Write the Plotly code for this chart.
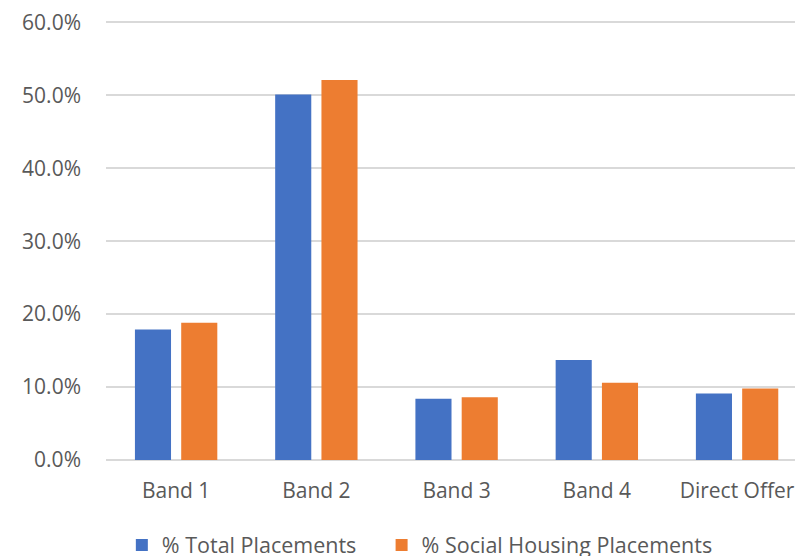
import plotly.graph_objects as go

categories = ["Band 1", "Band 2", "Band 3", "Band 4", "Direct Offer"]
total_placements = [17.9, 50.1, 8.4, 13.7, 9.1]
social_housing_placements = [18.8, 52.1, 8.6, 10.6, 9.8]
series_names = ["% Total Placements", "% Social Housing Placements"]
tick_vals = [0, 10, 20, 30, 40, 50, 60]
tick_text = [f"{v:.1f}%" for v in tick_vals]

font_family = "Open Sans, Noto Sans, sans-serif"
grey = "#595959"

fig = go.Figure()
fig.add_trace(go.Bar(x=categories, y=total_placements, name=series_names[0],
                     marker=dict(color="#4472C4", line=dict(width=0)), legend="legend"))
fig.add_trace(go.Bar(x=categories, y=social_housing_placements, name=series_names[1],
                     marker=dict(color="#ED7D31", line=dict(width=0)), legend="legend2"))

legend_common = dict(orientation="h", xanchor="left", y=-0.145, yanchor="top",
                     font=dict(size=21.5, color=grey), itemwidth=30,
                     bgcolor="rgba(0,0,0,0)")

fig.update_layout(
    width=795, height=556,
    margin=dict(l=106, r=0, t=15, b=96, autoexpand=False),
    paper_bgcolor="white", plot_bgcolor="white",
    barmode="group", bargap=0.34, bargroupgap=0.22,
    font=dict(family=font_family, color=grey, size=21),
    showlegend=True,
    legend=dict(x=0.023, **legend_common),
    legend2=dict(x=0.40, **legend_common),
)
fig.update_xaxes(range=[-0.5, 4.413], showgrid=False, showline=False, zeroline=False,
                 ticks="", tickfont=dict(size=21, color=grey), ticklabelstandoff=16,
                 ticklabeloverflow="allow")
fig.update_yaxes(range=[0, 61], tickvals=tick_vals, ticktext=tick_text,
                 showgrid=True, gridcolor="#d9d9d9", gridwidth=1.5, zeroline=True,
                 zerolinecolor="#d9d9d9", zerolinewidth=1.5, showline=False,
                 tickfont=dict(size=21, color=grey), ticklabelstandoff=24,
                 ticklabeloverflow="allow")

fig.write_html("out.html",
               config={"displayModeBar": False},
               post_script="document.body.style.margin='0';document.body.style.overflow='hidden';")
